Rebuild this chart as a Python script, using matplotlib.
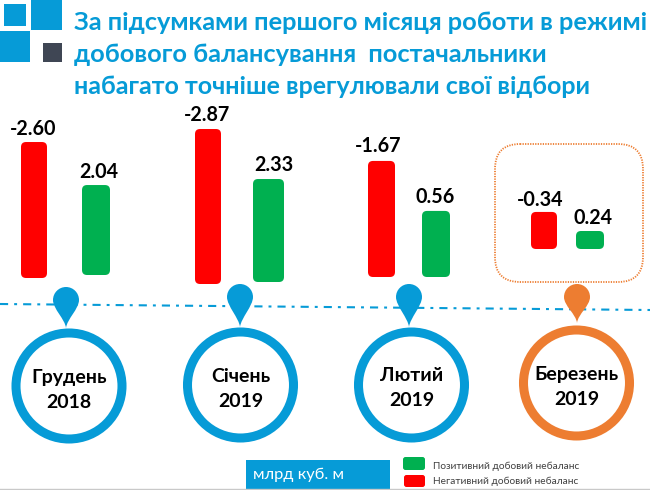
import matplotlib
matplotlib.use("Agg")
import matplotlib.pyplot as plt
from matplotlib.patches import FancyBboxPatch, Rectangle, Circle, PathPatch
from matplotlib.path import Path
import numpy as np

FONT = ['Lato', 'Open Sans', 'DejaVu Sans']
plt.rcParams['font.family'] = FONT

title_lines = ["За підсумками першого місяця роботи в режимі",
               "добового балансування  постачальники",
               "набагато точніше врегулювали свої відбори"]
months = ["Грудень\n2018", "Січень\n2019", "Лютий\n2019", "Березень\n2019"]
negative = [-2.60, -2.87, -1.67, -0.34]
positive = [2.04, 2.33, 0.56, 0.24]
unit_label = "млрд куб. м"
legend_labels = ["Позитивний добовий небаланс", "Негативний добовий небаланс"]

BLUE = "#069BD7"; ORANGE = "#ED7D31"; RED = "#FF0000"; GREEN = "#00B050"; DARK = "#3F4654"

# the source infographic is not drawn to one scale: pixels per unit, per bar
neg_scale = [52.3, 54.0, 69.5, 109.0]
pos_scale = [44.1, 44.2, 118.0, 75.0]
neg_x = [21, 195, 368, 531]; neg_w = [26, 26, 27, 26]; neg_bottom = [278, 284, 277, 249]
pos_x = [82, 253, 422, 576]; pos_w = [28, 31, 28, 28]; pos_bottom = [275, 282, 277, 249]
neg_lab = [(33, 129), (207, 115), (378, 146), (540, 200)]
pos_lab = [(99, 172), (274, 165), (435, 197), (593, 218)]
circles = [(69, 386), (240.5, 385), (411.5, 385), (576.5, 383)]
label_dy = [4, 4, 3, 4]
pins = [(66, 300, 328), (240, 297, 327), (409, 297, 327), (577, 297, 323)]
ring_col = [BLUE, BLUE, BLUE, ORANGE]

fig = plt.figure(figsize=(6.5, 4.9), dpi=100)
ax = fig.add_axes([0, 0, 1, 1])
ax.set_xlim(0, 650); ax.set_ylim(490, 0); ax.axis('off')

# logo
ax.add_patch(Rectangle((4, 4), 22, 22, color=BLUE, lw=0))
ax.add_patch(Rectangle((31, 0), 31, 30, color=BLUE, lw=0))
ax.add_patch(Rectangle((0, 31), 30, 31, color=BLUE, lw=0))
ax.add_patch(Rectangle((43, 43), 19, 19, color=DARK, lw=0))

for t, y, fs in zip(title_lines, [23, 55, 87], [18.3, 18.3, 18.0]):
    ax.text(74, y, t, color=BLUE, fontsize=fs, fontweight='bold', va='center', ha='left')

def rbar(x, top, w, h, col, r=5):
    r = min(r, h / 3)
    ax.add_patch(FancyBboxPatch((x + r, top + r), w - 2 * r, h - 2 * r,
                                boxstyle=f"round,pad={r},rounding_size={r}",
                                fc=col, ec='none', mutation_aspect=1, zorder=3))

for i in range(4):
    h = abs(negative[i]) * neg_scale[i]
    rbar(neg_x[i], neg_bottom[i] - h, neg_w[i], h, RED)
    h = positive[i] * pos_scale[i]
    rbar(pos_x[i], pos_bottom[i] - h, pos_w[i], h, GREEN)
    ax.text(*neg_lab[i], f"{negative[i]:.2f}", fontsize=14.2, fontweight='bold', ha='center', va='center', color='black')
    ax.text(*pos_lab[i], f"{positive[i]:.2f}", fontsize=14.2, fontweight='bold', ha='center', va='center', color='black')

# highlight frame
ax.add_patch(FancyBboxPatch((495 + 25, 144 + 25), 148 - 50, 138 - 50,
                            boxstyle="round,pad=25,rounding_size=25",
                            fc='none', ec=ORANGE, lw=1.3, ls=(0, (0.7, 0.7))))

# timeline
ax.plot([0, 650], [304, 310], color=BLUE, lw=1.5, ls=(0, (3.9, 2.9, 1.4, 2.9)), zorder=1)

def pin(cx, cy, tip, col, r=13):
    k = 0.5523 * r
    verts = [(cx, tip),
             (cx - 1, tip - 9), (cx - r, cy + 9), (cx - r, cy),
             (cx - r, cy - k), (cx - k, cy - r), (cx, cy - r),
             (cx + k, cy - r), (cx + r, cy - k), (cx + r, cy),
             (cx + r, cy + 9), (cx + 1, tip - 9), (cx, tip)]
    codes = [Path.MOVETO] + [Path.CURVE4] * 12
    ax.add_patch(PathPatch(Path(verts, codes), fc=col, ec='none', zorder=4))

for i in range(4):
    cx, cy = circles[i]
    ax.add_patch(Circle((cx, cy), 53, fc='white', ec=ring_col[i], lw=6.5, zorder=3))
    pin(pins[i][0], pins[i][1], pins[i][2], ring_col[i])
    ax.text(cx, cy + label_dy[i], months[i], fontsize=14, fontweight='bold', color='black',
            ha='center', va='center', linespacing=1.6, zorder=5)

# bottom strip
ax.plot([0, 650], [489.3, 489.3], color='#C9C9C9', lw=1)
ax.add_patch(Rectangle((246, 460), 144, 29, color=BLUE, lw=0))
ax.text(253, 475, unit_label, color='white', fontsize=11.8, va='center', ha='left')
rbar(403, 457, 22, 13, GREEN, r=2.5)
rbar(404, 475, 21, 12, RED, r=2.5)
ax.text(433, 466, legend_labels[0], color='#404040', fontsize=7.3, va='center', ha='left')
ax.text(433, 481, legend_labels[1], color='#404040', fontsize=7.3, va='center', ha='left')

fig.savefig("out.png", dpi=100)
